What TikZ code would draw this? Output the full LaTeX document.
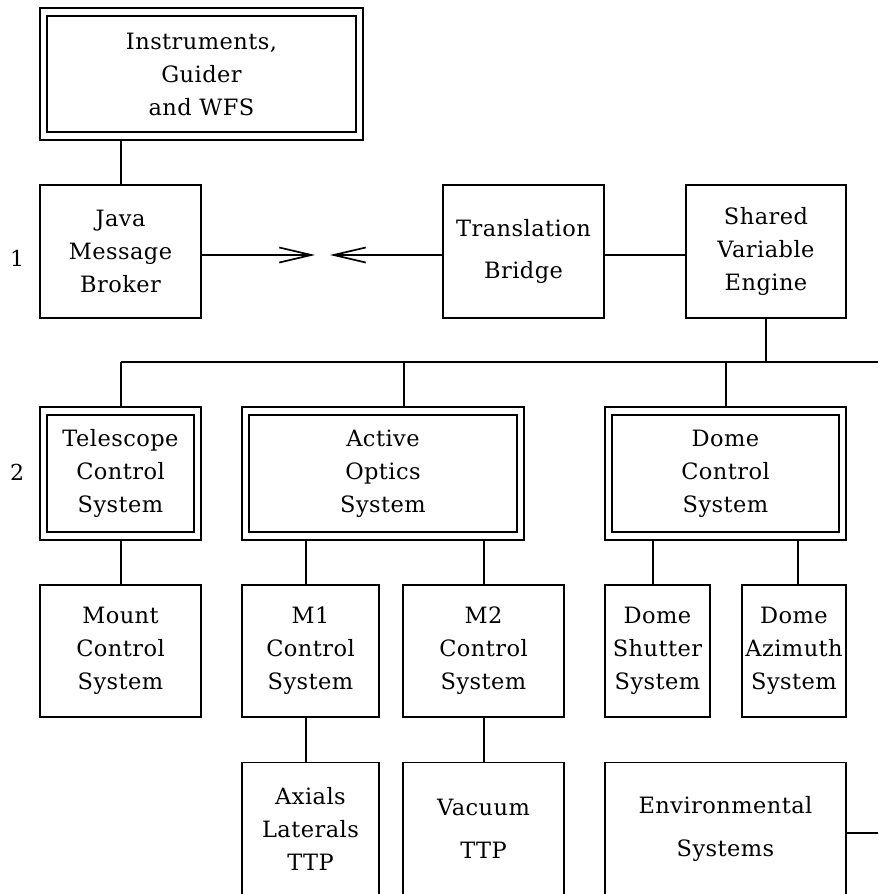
\documentclass[tikz,border=0pt]{standalone}
\usepackage{fontspec}
\setmainfont{DejaVu Serif}[LetterSpace=2]
\usetikzlibrary{arrows.meta}
\begin{document}
\begin{tikzpicture}[x=1pt,y=-1pt,line width=1.7pt,
  box/.style={draw,rectangle,inner sep=0pt,align=center,
    font=\fontsize{22.5}{33}\selectfont},
  lbl/.style={inner sep=0pt,font=\fontsize{22}{26}\selectfont},
  barb/.style={-{Straight Barb[length=32pt,width=15pt,line width=1.7pt]}}]
\useasboundingbox (0,0) rectangle (878,894);
\clip (0,0) rectangle (878,894);
% level 0
\node[box,minimum width=323pt,minimum height=132pt] (inst) at (201.5,74) {Instruments,\\Guider\\and WFS};
% level 1
\node[box,minimum width=161pt,minimum height=133pt] (jmb) at (120.5,251.5) {Java\\Message\\Broker};
\node[box,minimum width=161pt,minimum height=133pt] (tb) at (523.5,251.5) {Translation\\[9pt]Bridge};
\node[box,minimum width=160pt,minimum height=133pt] (sve) at (766,251.5) {Shared\\Variable\\Engine};
% level 2
\node[box,minimum width=161pt,minimum height=133pt] (tcs) at (120.5,473.5) {Telescope\\Control\\System};
\node[box,minimum width=282pt,minimum height=133pt] (aos) at (383,473.5) {Active\\Optics\\System};
\node[box,minimum width=241pt,minimum height=133pt] (dcs) at (725.5,473.5) {Dome\\Control\\System};
% level 3
\node[box,minimum width=161pt,minimum height=132pt] (mcs) at (120.5,651) {Mount\\Control\\System};
\node[box,minimum width=137pt,minimum height=132pt] (m1) at (310.5,651) {M1\\Control\\System};
\node[box,minimum width=161pt,minimum height=132pt] (m2) at (483.5,651) {M2\\Control\\System};
\node[box,minimum width=105pt,minimum height=132pt] (dss) at (657.5,651) {Dome\\Shutter\\System};
\node[box,minimum width=104pt,minimum height=132pt] (das) at (794,651) {Dome\\Azimuth\\System};
% level 4
\node[box,minimum width=137pt,minimum height=133pt] (ax) at (310.5,829) {Axials\\Laterals\\TTP};
\node[box,minimum width=161pt,minimum height=133pt] (vac) at (483.5,829) {Vacuum\\[10pt]TTP};
\node[box,minimum width=241pt,minimum height=133pt] (env) at (725.5,829) {Environmental\\[10pt]Systems};
% inner frames of double boxes
\foreach \n in {inst,tcs,aos,dcs}
  \draw ([shift={(8,9)}]\n.north west) rectangle ([shift={(-8,-9)}]\n.south east);
% level labels
\node[lbl] (l1) at (17,258) {1};
\node[lbl] (l2) at (17,472) {2};
% connectors
\draw (inst.south -| 121,0) -- (jmb.north -| 121,0);
\coordinate (ja) at (315,255);
\coordinate (jb) at (330,255);
\draw[barb] (jmb.east |- ja) -- (ja);
\draw[barb] (tb.west |- jb) -- (jb);
\draw (tb.east |- ja) -- (sve.west |- ja);
\coordinate (busL) at (121,362);
\coordinate (busR) at (878,362);
\draw (busL) -- (busR);
\draw (sve.south) -- (sve.south |- busR);
\draw (busL) -- (busL |- tcs.north);
\draw (404,362) -- (aos.north -| 404,0);
\draw (726,362) -- (dcs.north -| 726,0);
\draw (tcs.south -| 121,0) -- (mcs.north -| 121,0);
\draw (aos.south -| 306,0) -- (m1.north -| 306,0);
\draw (aos.south -| 484,0) -- (m2.north -| 484,0);
\draw (dcs.south -| 653,0) -- (dss.north -| 653,0);
\draw (dcs.south -| 798,0) -- (das.north -| 798,0);
\draw (m1.south -| 306,0) -- (ax.north -| 306,0);
\draw (m2.south -| 484,0) -- (vac.north -| 484,0);
\coordinate (envR) at (878,833);
\draw (env.east |- envR) -- (envR);
\end{tikzpicture}
\end{document}
